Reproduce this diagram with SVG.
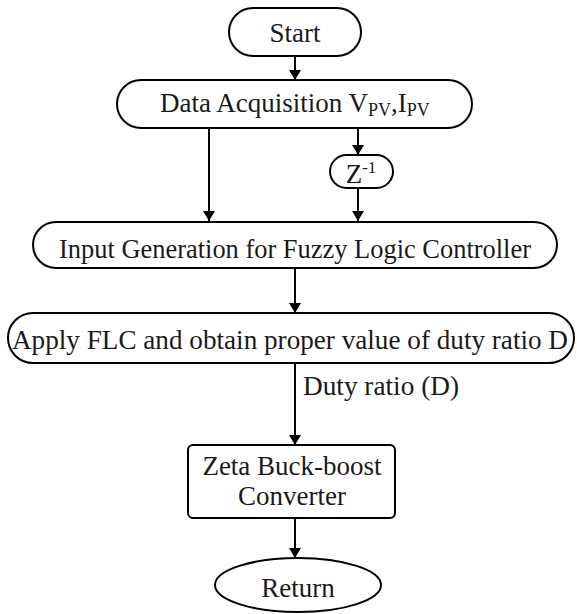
<svg xmlns="http://www.w3.org/2000/svg" width="577" height="614" viewBox="0 0 577 614">
<defs>
<style>
.box{fill:#fff;stroke:#000;stroke-width:2}
.t{font-family:"Liberation Serif","Times New Roman",serif;font-size:27px;fill:#1a1a1a;text-anchor:middle}
.c{stroke:#000;stroke-width:2;fill:none}
</style>
<marker id="ah" viewBox="0 0 10 12" refX="10" refY="6" markerWidth="10" markerHeight="12" markerUnits="userSpaceOnUse" orient="auto">
<path d="M0,0 L10,6 L0,12 Z" fill="#000"/>
</marker>
</defs>
<rect width="577" height="614" fill="#fff"/>
<g id="connectors">
<line class="c" x1="295" y1="56" x2="295" y2="80" marker-end="url(#ah)"/>
<line class="c" x1="209" y1="128" x2="209" y2="221" marker-end="url(#ah)"/>
<line class="c" x1="358" y1="128" x2="358" y2="155" marker-end="url(#ah)"/>
<line class="c" x1="358" y1="188" x2="358" y2="221" marker-end="url(#ah)"/>
<line class="c" x1="295" y1="268" x2="295" y2="313" marker-end="url(#ah)"/>
<line class="c" x1="295" y1="363" x2="295" y2="445" marker-end="url(#ah)"/>
<line class="c" x1="295" y1="518" x2="295" y2="558" marker-end="url(#ah)"/>
<text class="t" x="303" y="395" style="text-anchor:start" textLength="156" lengthAdjust="spacingAndGlyphs">Duty  ratio (D)</text>
</g>
<g id="start">
<rect class="box" x="229" y="8" width="132" height="48" rx="24" ry="24"/>
<text class="t" x="295" y="42">Start</text>
</g>
<g id="data">
<rect class="box" x="117" y="80" width="355" height="48" rx="24" ry="24"/>
<text class="t" x="295" y="112">Data Acquisition V<tspan font-size="18" dy="4">PV</tspan><tspan dy="-4">,I</tspan><tspan font-size="18" dy="4">PV</tspan></text>
</g>
<g id="zdelay">
<rect class="box" x="330" y="155" width="63" height="33" rx="16.5" ry="16.5"/>
<text class="t" x="361" y="183">Z<tspan font-size="17" dy="-10">-1</tspan></text>
</g>
<g id="input">
<rect class="box" x="33" y="222" width="524" height="46" rx="23" ry="23"/>
<text class="t" x="295" y="258" textLength="472" lengthAdjust="spacingAndGlyphs">Input Generation for Fuzzy Logic Controller</text>
</g>
<g id="apply">
<rect class="box" x="8" y="313" width="566" height="50" rx="25" ry="25"/>
<text class="t" x="290" y="349" textLength="556" lengthAdjust="spacingAndGlyphs">Apply FLC and obtain proper value of duty ratio D</text>
</g>
<g id="zeta">
<rect class="box" x="188" y="445" width="207" height="73" rx="5" ry="5"/>
<text class="t" x="292" y="475">Zeta Buck-boost</text>
<text class="t" x="292" y="505">Converter</text>
</g>
<g id="return">
<ellipse class="box" cx="298" cy="585" rx="83" ry="27"/>
<text class="t" x="298" y="597">Return</text>
</g>
</svg>
